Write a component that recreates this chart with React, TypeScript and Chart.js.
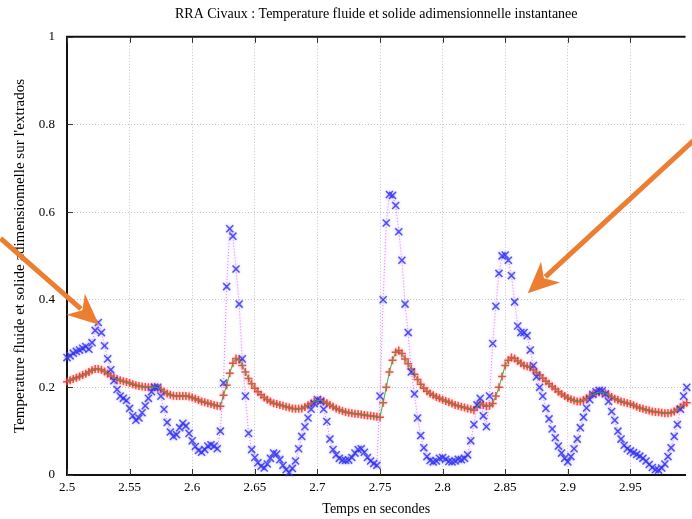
import React, { useEffect, useRef } from "react";
import { Chart, registerables } from "chart.js";

Chart.register(...registerables);

// time grid of the samples (seconds)
const T0 = 2.5;
const DT = 0.0025;

// solid temperature (blue x markers, magenta dotted line)
const solide = [
  0.268, 0.272, 0.278, 0.282, 0.285, 0.289, 0.293, 0.287, 0.302, 0.330,
  0.348, 0.325, 0.295, 0.265, 0.240, 0.215, 0.195, 0.180, 0.175, 0.170,
  0.152, 0.135, 0.125, 0.130, 0.142, 0.158, 0.175, 0.190, 0.200, 0.200,
  0.180, 0.150, 0.120, 0.098, 0.088, 0.092, 0.108, 0.118, 0.112, 0.095,
  0.078, 0.065, 0.056, 0.052, 0.058, 0.066, 0.069, 0.066, 0.060, 0.100,
  0.210, 0.430, 0.562, 0.545, 0.470, 0.390, 0.265, 0.180, 0.095, 0.058,
  0.040, 0.028, 0.020, 0.016, 0.025, 0.038, 0.050, 0.048, 0.035, 0.022,
  0.012, 0.006, 0.015, 0.032, 0.060, 0.088, 0.110, 0.130, 0.150, 0.163,
  0.172, 0.168, 0.150, 0.122, 0.082, 0.058, 0.046, 0.038, 0.034, 0.033,
  0.034, 0.040, 0.050, 0.058, 0.060, 0.052, 0.040, 0.032, 0.026, 0.022,
  0.180, 0.400, 0.575, 0.640, 0.638, 0.615, 0.555, 0.490, 0.390, 0.325,
  0.235, 0.185, 0.130, 0.090, 0.062, 0.042, 0.033, 0.030, 0.032, 0.038,
  0.040, 0.036, 0.031, 0.030, 0.032, 0.036, 0.035, 0.038, 0.046, 0.078,
  0.115, 0.160, 0.175, 0.135, 0.110, 0.180, 0.300, 0.385, 0.460, 0.500,
  0.502, 0.490, 0.455, 0.395, 0.340, 0.325, 0.325, 0.318, 0.285, 0.250,
  0.224, 0.200, 0.180, 0.152, 0.128, 0.105, 0.085, 0.066, 0.050, 0.038,
  0.030, 0.042, 0.060, 0.082, 0.108, 0.132, 0.153, 0.172, 0.184, 0.190,
  0.193, 0.192, 0.185, 0.168, 0.145, 0.125, 0.100, 0.082, 0.068, 0.060,
  0.055, 0.051, 0.047, 0.043, 0.038, 0.032, 0.024, 0.017, 0.012, 0.011,
  0.016, 0.025, 0.042, 0.062, 0.088, 0.115, 0.150, 0.180, 0.200,
];

// fluid temperature (red + markers, green line)
const fluide = [
  0.213, 0.216, 0.219, 0.222, 0.225, 0.228, 0.231, 0.235, 0.239, 0.242,
  0.242, 0.240, 0.236, 0.231, 0.226, 0.222, 0.219, 0.216, 0.214, 0.212,
  0.210, 0.207, 0.205, 0.203, 0.202, 0.201, 0.200, 0.200, 0.201, 0.199,
  0.195, 0.190, 0.186, 0.183, 0.181, 0.180, 0.180, 0.180, 0.180, 0.179,
  0.177, 0.174, 0.171, 0.168, 0.166, 0.164, 0.162, 0.160, 0.158, 0.157,
  0.182, 0.205, 0.232, 0.255, 0.266, 0.263, 0.250, 0.235, 0.220, 0.208,
  0.198, 0.190, 0.183, 0.177, 0.172, 0.168, 0.164, 0.162, 0.160, 0.158,
  0.156, 0.154, 0.152, 0.151, 0.151, 0.152, 0.155, 0.159, 0.163, 0.167,
  0.170, 0.171, 0.168, 0.164, 0.160, 0.156, 0.152, 0.149, 0.146, 0.144,
  0.142, 0.141, 0.140, 0.139, 0.138, 0.137, 0.136, 0.135, 0.134, 0.133,
  0.132, 0.165, 0.200, 0.235, 0.262, 0.280, 0.284, 0.277, 0.265, 0.254,
  0.242, 0.230, 0.218, 0.207, 0.198, 0.191, 0.186, 0.182, 0.178, 0.175,
  0.172, 0.169, 0.166, 0.163, 0.160, 0.158, 0.156, 0.154, 0.152, 0.150,
  0.148, 0.155, 0.165, 0.160, 0.157, 0.158, 0.163, 0.180, 0.200, 0.225,
  0.250, 0.262, 0.268, 0.266, 0.260, 0.255, 0.250, 0.248, 0.246, 0.240,
  0.234, 0.228, 0.221, 0.214, 0.208, 0.202, 0.196, 0.190, 0.185, 0.180,
  0.176, 0.173, 0.170, 0.168, 0.168, 0.171, 0.175, 0.180, 0.184, 0.187,
  0.189, 0.189, 0.186, 0.182, 0.178, 0.174, 0.171, 0.168, 0.166, 0.164,
  0.162, 0.159, 0.156, 0.153, 0.151, 0.149, 0.147, 0.145, 0.144, 0.143,
  0.142, 0.141, 0.141, 0.142, 0.145, 0.150, 0.155, 0.160, 0.165,
];

const xTickValues = [2.5, 2.55, 2.6, 2.65, 2.7, 2.75, 2.8, 2.85, 2.9, 2.95];
const xTickLabels = ["2.5", "2.55", "2.6", "2.65", "2.7", "2.75", "2.8", "2.85", "2.9", "2.95"];
const yTickValues = [0, 0.2, 0.4, 0.6, 0.8, 1];
const yTickLabels = ["0", "0.2", "0.4", "0.6", "0.8", "1"];

const titleText = "RRA Civaux : Temperature fluide et solide adimensionnelle instantanee";
const xTitle = "Temps en secondes";
const yTitle = "Temperature fluide et solide adimensionnelle sur l'extrados";

// annotation arrows, in data units: [time, value]
const arrowStarts = [
  [2.447, 0.54],
  [3.004, 0.773],
];
const arrowTips = [
  [2.5255, 0.343],
  [2.868, 0.415],
];

const SERIF = "'Liberation Serif', 'DejaVu Serif', serif";

// soft halo around the markers (the source image is slightly blurred)
const glowColors: Record<string, string> = {
  solide: "rgba(90,90,255,0.55)",
  fluide: "rgba(255,90,90,0.55)",
};

const framePlugin = {
  id: "gnuplotFrame",
  beforeDatasetDraw(chart: any, args: any) {
    const label = chart.data.datasets[args.index].label;
    const c = glowColors[label];
    if (c) {
      chart.ctx.save();
      chart.ctx.shadowColor = c;
      chart.ctx.shadowBlur = 3;
    }
  },
  afterDatasetDraw(chart: any, args: any) {
    const label = chart.data.datasets[args.index].label;
    if (glowColors[label]) chart.ctx.restore();
  },
  afterDatasetsDraw(chart: any) {
    const { ctx, chartArea: a, scales } = chart;
    const xs = scales.x;
    const ys = scales.y;
    ctx.save();
    ctx.strokeStyle = "#111";
    ctx.lineWidth = 2;
    ctx.beginPath();
    ctx.moveTo(a.left - 1, a.top);
    ctx.lineTo(a.right, a.top);
    ctx.stroke();
    ctx.lineWidth = 1;
    ctx.strokeStyle = "#333";
    ctx.beginPath();
    for (const v of xTickValues) {
      const px = Math.round(xs.getPixelForValue(v)) + 0.5;
      ctx.moveTo(px, a.bottom);
      ctx.lineTo(px, a.bottom - 6);
      ctx.moveTo(px, a.top);
      ctx.lineTo(px, a.top + 6);
    }
    for (const v of yTickValues) {
      const py = Math.round(ys.getPixelForValue(v)) + 0.5;
      ctx.moveTo(a.left, py);
      ctx.lineTo(a.left + 6, py);
    }
    ctx.stroke();
    ctx.restore();
  },
  afterDraw(chart: any) {
    const { ctx, scales } = chart;
    const xs = scales.x;
    const ys = scales.y;
    ctx.save();
    ctx.fillStyle = "#ED7D31";
    ctx.strokeStyle = "#ED7D31";
    for (let i = 0; i < arrowStarts.length; i++) {
      const sx = xs.getPixelForValue(arrowStarts[i][0]);
      const sy = ys.getPixelForValue(arrowStarts[i][1]);
      const tx = xs.getPixelForValue(arrowTips[i][0]);
      const ty = ys.getPixelForValue(arrowTips[i][1]);
      const len = Math.hypot(tx - sx, ty - sy);
      const dx = (tx - sx) / len;
      const dy = (ty - sy) / len;
      const nx = -dy;
      const ny = dx;
      const L = 31;
      const W = 14;
      const notch = 22;
      ctx.lineWidth = 5;
      ctx.beginPath();
      ctx.moveTo(sx, sy);
      ctx.lineTo(tx - dx * (notch + 2), ty - dy * (notch + 2));
      ctx.stroke();
      ctx.beginPath();
      ctx.moveTo(tx, ty);
      ctx.lineTo(tx - dx * L + nx * W, ty - dy * L + ny * W);
      ctx.lineTo(tx - dx * notch, ty - dy * notch);
      ctx.lineTo(tx - dx * L - nx * W, ty - dy * L - ny * W);
      ctx.closePath();
      ctx.fill();
    }
    ctx.restore();
  },
};

export default function App() {
  const canvasRef = useRef<HTMLCanvasElement | null>(null);

  useEffect(() => {
    const canvas = canvasRef.current;
    if (!canvas) return;
    const solidePts = solide.map((v, i) => ({ x: +(T0 + DT * i).toFixed(4), y: v }));
    const fluidePts = fluide.map((v, i) => ({ x: +(T0 + DT * i).toFixed(4), y: v }));

    const chart = new Chart(canvas, {
      type: "line",
      data: {
        datasets: [
          {
            label: "fluide (ligne)",
            data: fluidePts,
            showLine: true,
            borderColor: "#3fae3f",
            borderWidth: 1,
            pointRadius: 0,
            fill: false,
            tension: 0,
            order: 0,
          },
          {
            label: "solide",
            data: solidePts,
            showLine: true,
            borderColor: "#ff6cff",
            borderWidth: 1,
            borderDash: [1, 2],
            pointStyle: "crossRot",
            pointRadius: 5,
            pointBorderWidth: 1.5,
            pointBorderColor: "rgba(45,45,240,0.8)",
            pointBackgroundColor: "rgba(0,0,0,0)",
            fill: false,
            tension: 0,
            clip: false,
            order: 1,
          },
          {
            label: "fluide",
            data: fluidePts,
            showLine: false,
            pointStyle: "cross",
            pointRadius: 4,
            pointBorderWidth: 1.5,
            pointBorderColor: "rgba(240,50,50,0.85)",
            pointBackgroundColor: "rgba(0,0,0,0)",
            fill: false,
            clip: false,
            order: 2,
          },
        ],
      },
      options: {
        animation: false,
        responsive: false,
        devicePixelRatio: 1,
        layout: { padding: 0 },
        plugins: {
          legend: { display: false },
          tooltip: { enabled: false },
          title: {
            display: true,
            text: titleText,
            color: "#000",
            fullSize: false,
            font: { family: SERIF, size: 14, weight: "normal" },
            padding: { top: 6, bottom: 14 },
          },
        },
        scales: {
          x: {
            type: "linear",
            min: 2.5,
            max: 2.994,
            afterBuildTicks: (s: any) => {
              s.ticks = xTickValues.map((v) => ({ value: v }));
            },
            afterFit: (s: any) => {
              s.height = 44;
            },
            ticks: {
              callback: (_v: any, i: number) => xTickLabels[i],
              color: "#000",
              font: { family: SERIF, size: 13 },
              padding: 5,
              maxRotation: 0,
              autoSkip: false,
            },
            grid: { color: "#c4c4c4", lineWidth: 1, drawTicks: false },
            border: { display: true, color: "#111", width: 2, dash: [1, 2] },
            title: {
              display: true,
              text: xTitle,
              color: "#000",
              font: { family: SERIF, size: 14 },
              padding: { top: 0, bottom: 1 },
            },
          },
          y: {
            type: "linear",
            min: 0,
            max: 1,
            afterBuildTicks: (s: any) => {
              s.ticks = yTickValues.map((v) => ({ value: v }));
            },
            afterFit: (s: any) => {
              s.width = 67;
            },
            ticks: {
              callback: (_v: any, i: number) => yTickLabels[i],
              color: "#000",
              font: { family: SERIF, size: 13 },
              padding: 12,
            },
            grid: { color: "#c4c4c4", lineWidth: 1, drawTicks: false },
            border: { display: true, color: "#111", width: 2, dash: [1, 2] },
            title: {
              display: true,
              text: yTitle,
              color: "#000",
              font: { family: SERIF, size: 15 },
              padding: { top: 11, bottom: 0 },
            },
          },
        },
      },
      plugins: [framePlugin],
    } as any);

    return () => chart.destroy();
  }, []);

  return (
    <div style={{ position: "fixed", left: 0, top: 0, width: 692, height: 519, background: "#fff" }}>
      <canvas ref={canvasRef} width={692} height={519} style={{ display: "block" }} />
    </div>
  );
}
